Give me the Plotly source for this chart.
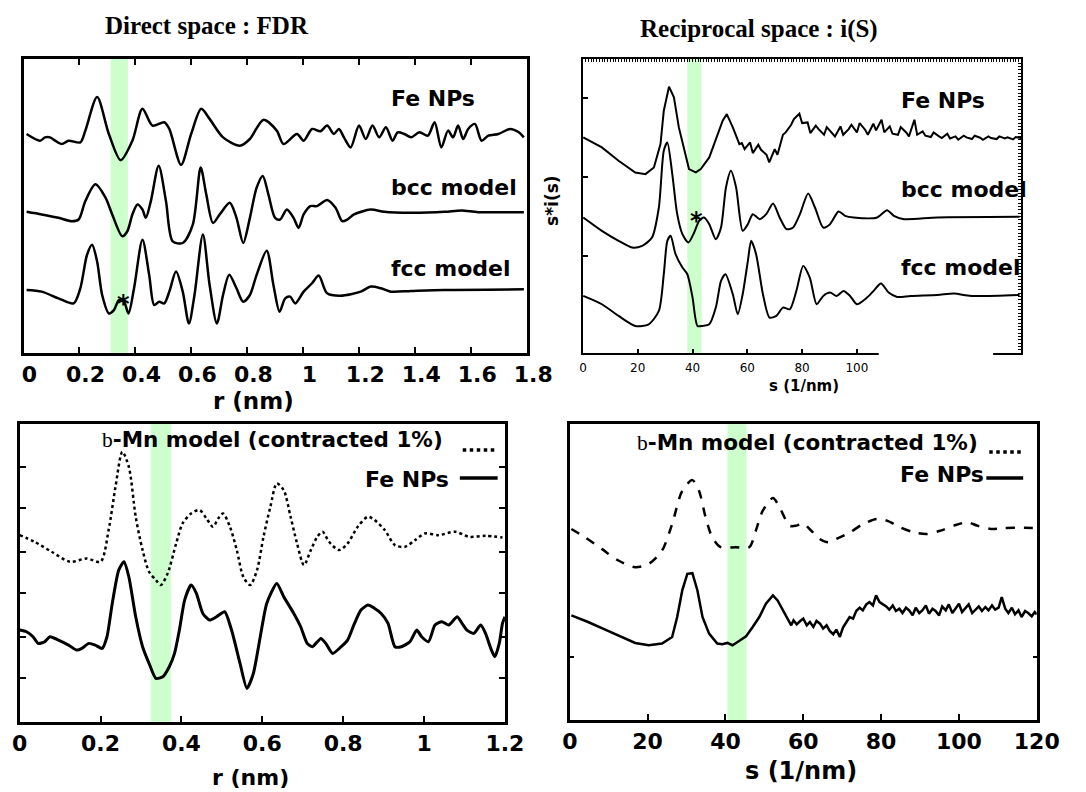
import plotly.graph_objects as go

W, H = 1086, 792

# ---------------- DATA ----------------
# Panel 1 : direct space (r in nm, arbitrary offset units)
p1_fe_r = [0.011, 0.059, 0.077, 0.095, 0.113, 0.137, 0.161, 0.203, 0.221, 0.263, 0.305, 0.347, 0.389, 0.425,
           0.461, 0.503, 0.521, 0.563, 0.599, 0.635, 0.665, 0.713, 0.773, 0.809, 0.857, 0.905, 0.929, 0.977,
           1.001, 1.031, 1.061, 1.085, 1.109, 1.127, 1.145, 1.169, 1.199, 1.223, 1.247, 1.271, 1.295, 1.319,
           1.337, 1.361, 1.385, 1.415, 1.445, 1.469, 1.493, 1.517, 1.535, 1.553, 1.571, 1.589, 1.613, 1.637,
           1.661, 1.697, 1.739, 1.770, 1.788]
p1_fe_y = [6.52, 6.32, 6.42, 6.42, 6.32, 6.22, 6.32, 6.27, 6.62, 7.62, 6.52, 5.74, 6.32, 7.27,
           6.77, 6.87, 6.67, 5.60, 6.52, 7.27, 6.97, 6.42, 6.17, 6.37, 6.94, 6.62, 6.22, 6.52,
           6.32, 6.67, 6.60, 6.77, 6.52, 6.67, 6.42, 6.12, 6.77, 6.37, 6.77, 6.42, 6.72, 6.32,
           6.57, 6.52, 6.42, 6.57, 6.47, 6.87, 6.12, 6.62, 6.42, 6.77, 6.37, 6.67, 6.82, 6.32,
           6.47, 6.52, 6.67, 6.57, 6.42]

p1_bcc_r = [0.011, 0.065, 0.125, 0.173, 0.197, 0.221, 0.257, 0.293, 0.317, 0.353, 0.371, 0.389, 0.407, 0.425,
            0.437, 0.455, 0.483, 0.509, 0.533, 0.569, 0.605, 0.633, 0.653, 0.677, 0.701, 0.737, 0.761, 0.785,
            0.809, 0.833, 0.855, 0.875, 0.899, 0.917, 0.941, 0.965, 0.983, 1.001, 1.025, 1.049, 1.085, 1.115,
            1.139, 1.157, 1.181, 1.241, 1.289, 1.385, 1.505, 1.565, 1.625, 1.788]
p1_bcc_y = [4.20, 4.12, 4.02, 3.92, 3.97, 4.52, 5.02, 4.62, 4.12, 3.47, 3.62, 4.12, 4.42, 4.27,
            4.02, 4.52, 5.57, 4.52, 3.32, 3.27, 3.82, 5.52, 4.72, 3.87, 4.12, 4.47, 4.02, 3.27,
            4.02, 4.92, 5.27, 4.72, 4.02, 3.97, 4.27, 4.02, 3.72, 4.12, 4.37, 4.37, 4.55, 4.32,
            3.92, 3.97, 4.12, 4.27, 4.20, 4.17, 4.20, 4.24, 4.19, 4.19]

p1_fcc_r = [0.011, 0.065, 0.125, 0.179, 0.203, 0.227, 0.245, 0.263, 0.281, 0.305, 0.323, 0.341, 0.359, 0.375,
            0.395, 0.425, 0.449, 0.467, 0.485, 0.503, 0.521, 0.545, 0.569, 0.591, 0.611, 0.641, 0.665, 0.691,
            0.713, 0.735, 0.761, 0.785, 0.809, 0.833, 0.869, 0.893, 0.915, 0.935, 0.953, 0.971, 1.001, 1.031,
            1.055, 1.085, 1.133, 1.205, 1.241, 1.277, 1.313, 1.385, 1.505, 1.788]
p1_fcc_y = [1.87, 1.82, 1.62, 1.47, 1.92, 2.92, 3.22, 2.72, 1.72, 1.17, 1.27, 1.57, 1.52, 1.17,
            1.92, 3.37, 2.32, 1.42, 1.52, 1.47, 1.82, 2.42, 1.82, 0.87, 1.72, 3.52, 2.02, 0.87,
            1.72, 2.32, 1.92, 1.52, 1.72, 2.32, 3.04, 2.02, 1.22, 1.62, 1.67, 1.47, 1.82, 2.07,
            2.30, 1.77, 1.70, 1.82, 1.97, 1.92, 1.82, 1.84, 1.87, 1.89]

p1_ticks = [0, 0.2, 0.4, 0.6, 0.8, 1.0, 1.2, 1.4, 1.6, 1.8]
p1_ticktext = ["0", "0.2", "0.4", "0.6", "0.8", "1", "1.2", "1.4", "1.6", "1.8"]
p1_band = [0.311, 0.373]

# Panel 2 : reciprocal space (s in 1/nm)
p2_fe_s = [0.1, 6.9, 13.0, 19.1, 22.8, 25.9, 28.3, 29.5, 31.4, 33.2, 35.0, 36.9, 38.7, 41.2, 43.0, 46.1,
           49.1, 51.0, 52.5, 54.7, 57.1,
           58, 59, 61, 62, 64, 65, 67, 68, 70, 71, 73, 74, 76, 77, 79, 80, 82, 83, 85, 86, 88, 89, 91, 92,
           94, 95, 97, 98, 100, 101, 103, 104, 106, 107, 109, 110, 112, 113, 115, 116, 118, 119, 121, 122,
           124, 125, 127, 128, 130, 131, 133, 134, 136, 137, 139, 140, 142, 143, 145, 146, 148, 149, 151,
           152, 154, 155, 157, 158, 160]
p2_fe_y = [6.47, 6.17, 5.77, 5.42, 5.37, 5.57, 6.27, 7.27, 7.99, 7.67, 6.77, 6.17, 5.52, 5.42, 5.52, 5.87,
           6.57, 6.97, 7.17, 6.77, 6.27,
           6.30, 6.12, 6.32, 6.00, 6.25, 6.10, 5.95, 5.72, 6.12, 5.95, 6.55, 6.62, 6.85, 7.02, 7.18, 6.90,
           6.92, 6.60, 6.82, 6.72, 6.55, 6.78, 6.58, 6.50, 6.80, 6.55, 6.72, 6.85, 6.62, 6.90, 6.70, 6.55,
           6.88, 6.68, 7.00, 6.62, 6.80, 6.58, 6.55, 6.78, 6.62, 6.50, 7.00, 6.55, 6.65, 6.52, 6.48, 6.62,
           6.50, 6.45, 6.58, 6.44, 6.50, 6.40, 6.52, 6.47, 6.42, 6.52, 6.46, 6.40, 6.50, 6.45, 6.42, 6.50,
           6.44, 6.47, 6.41, 6.48, 6.45]

p2_bcc_s = [0.1, 6.9, 13.0, 17.9, 21.6, 25.2, 27.7, 29.5, 30.8, 32.6, 34.4, 36.3, 38.5, 40.6, 42.4, 44.2,
            46.1, 48.5, 50.4, 52.2, 54.0, 55.9, 58.3, 60.2, 62.0, 64.5, 66.9, 69.4, 71.8, 74.3, 76.7, 79.2,
            82.2, 84.7, 87.7, 90.2, 93.3, 95.7, 98.8, 107.4, 111.0, 113.5, 117.2, 129.4, 159.4]
p2_bcc_y = [4.07, 3.67, 3.37, 3.17, 3.22, 3.47, 4.37, 6.07, 6.32, 5.37, 4.17, 3.57, 3.32, 3.62, 3.97, 4.07,
            3.87, 3.42, 3.77, 4.97, 5.47, 4.97, 3.67, 3.87, 4.17, 4.02, 4.17, 4.49, 4.07, 3.72, 3.77, 4.17,
            4.79, 4.37, 3.77, 3.87, 4.25, 4.12, 4.07, 4.07, 4.29, 4.12, 4.02, 4.07, 4.09]

p2_fcc_s = [0.1, 6.9, 13.0, 19.1, 24.0, 27.7, 29.5, 30.8, 32.0, 33.8, 36.3, 38.1, 40.0, 41.8, 43.6, 46.1,
            48.5, 50.4, 52.0, 54.7, 56.5, 58.3, 60.2, 61.4, 63.2, 65.7, 68.1, 70.6, 73.0, 75.5, 77.9, 80.4,
            82.8, 85.3, 87.7, 90.2, 92.6, 95.1, 97.5, 100.0, 103.7, 106.1, 108.8, 111.6, 114.7, 119.6, 129.4,
            135.5, 141.7, 159.4]
p2_fcc_y = [1.72, 1.47, 1.12, 0.82, 0.87, 1.27, 2.37, 3.37, 3.52, 2.97, 2.57, 2.37, 1.67, 0.82, 0.82, 0.87,
            1.37, 2.17, 2.37, 1.77, 1.17, 1.77, 2.77, 3.37, 2.97, 1.77, 1.07, 1.12, 1.37, 1.32, 1.87, 2.62,
            2.27, 1.47, 1.72, 1.82, 1.72, 1.87, 1.72, 1.47, 1.67, 1.87, 2.09, 1.82, 1.69, 1.72, 1.75,
            1.79, 1.72, 1.75]

p2_ticks = [0, 20, 40, 60, 80, 100]
p2_ticktext = ["0", "20", "40", "60", "80", "100"]
p2_yticks = [2.92, 5.27, 7.64]
p2_band = [38.1, 43.3]

# Panel 3 : beta-Mn vs Fe NPs, direct space
p3_mn_r = [0.000, 0.037, 0.079, 0.125, 0.166, 0.200, 0.220, 0.237, 0.254, 0.270, 0.287, 0.304, 0.320, 0.337,
           0.349, 0.366, 0.387, 0.403, 0.424, 0.445, 0.462, 0.478, 0.491, 0.503, 0.520, 0.537, 0.553, 0.570,
           0.587, 0.603, 0.620, 0.636, 0.653, 0.670, 0.686, 0.703, 0.720, 0.736, 0.749, 0.765, 0.790, 0.811,
           0.836, 0.861, 0.878, 0.903, 0.928, 0.953, 0.978, 1.002, 1.036, 1.077, 1.111, 1.152, 1.194]
p3_mn_y = [5.60, 5.40, 5.10, 4.80, 4.90, 4.80, 5.75, 7.05, 8.10, 7.65, 6.15, 5.15, 4.50, 4.25,
           4.10, 4.45, 5.35, 5.95, 6.25, 6.35, 6.10, 5.85, 6.10, 6.25, 5.85, 5.15, 4.35, 4.10,
           4.55, 5.55, 6.45, 7.15, 6.95, 6.15, 5.35, 4.70, 5.15, 5.55, 5.70, 5.40, 5.15, 5.35,
           5.85, 6.15, 6.05, 5.75, 5.30, 5.25, 5.45, 5.65, 5.60, 5.70, 5.55, 5.58, 5.53]

p3_fe_r = [0.000, 0.017, 0.033, 0.046, 0.062, 0.075, 0.096, 0.121, 0.141, 0.154, 0.171, 0.187, 0.204, 0.216,
           0.229, 0.245, 0.258, 0.270, 0.287, 0.304, 0.320, 0.337, 0.354, 0.370, 0.383, 0.395, 0.408, 0.424,
           0.437, 0.453, 0.470, 0.487, 0.507, 0.524, 0.545, 0.562, 0.578, 0.595, 0.611, 0.636, 0.653, 0.678,
           0.695, 0.711, 0.724, 0.745, 0.757, 0.774, 0.795, 0.811, 0.828, 0.844, 0.861, 0.878, 0.894, 0.911,
           0.928, 0.944, 0.965, 0.982, 0.994, 1.011, 1.027, 1.044, 1.061, 1.082, 1.094, 1.106, 1.123, 1.140,
           1.152, 1.165, 1.175, 1.186, 1.194, 1.200]
p3_fe_y = [2.75, 2.70, 2.55, 2.35, 2.40, 2.55, 2.45, 2.30, 2.15, 2.20, 2.35, 2.30, 2.20, 2.55,
           3.55, 4.55, 4.80, 4.35, 3.15, 2.25, 1.75, 1.30, 1.35, 1.65, 2.05, 2.75, 3.65, 4.10,
           3.85, 3.25, 3.05, 3.15, 3.30, 2.75, 1.75, 1.00, 1.45, 2.55, 3.55, 4.15, 3.75, 3.25,
           2.85, 2.35, 2.25, 2.50, 2.35, 2.05, 2.25, 2.45, 2.95, 3.35, 3.50, 3.40, 3.25, 2.95,
           2.25, 2.25, 2.40, 2.75, 2.55, 2.40, 2.90, 3.00, 2.90, 3.15, 2.95, 2.75, 2.65, 2.90,
           2.65, 2.20, 1.95, 2.35, 2.95, 3.15]

p3_ticks = [0, 0.2, 0.4, 0.6, 0.8, 1.0, 1.2]
p3_ticktext = ["0", "0.2", "0.4", "0.6", "0.8", "1", "1.2"]
p3_yticks = [1.30, 2.55, 3.85, 5.10, 6.40, 7.65]
p3_band = [0.324, 0.374]

# Panel 4 : beta-Mn vs Fe NPs, reciprocal space
p4_mn_s = [0.4, 3.9, 8.2, 12.5, 16.8, 20.3, 23.7, 26.3, 28.9, 31.5, 33.2, 34.9, 36.6, 38.8, 42.7, 46.1,
           47.8, 49.6, 52.2, 53.9, 56.5, 58.2, 59.9, 61.6, 64.2, 66.4, 68.5, 72.0, 75.4, 78.9, 81.5, 84.9,
           88.4, 91.8, 95.3, 98.7, 102.2, 104.7, 108.2, 111.6, 119.4]
p4_mn_y = [5.75, 5.50, 5.15, 4.80, 4.60, 4.70, 5.10, 5.90, 6.90, 7.22, 6.90, 6.10, 5.50, 5.20, 5.20, 5.20,
           5.70, 6.30, 6.68, 6.40, 5.85, 5.85, 5.92, 5.75, 5.45, 5.35, 5.45, 5.65, 5.90, 6.05, 6.00, 5.80,
           5.65, 5.60, 5.70, 5.85, 5.95, 5.85, 5.75, 5.78, 5.78]

p4_fe_s = [0.4, 4.7, 9.1, 13.4, 16.8, 20.3, 23.7, 26.3, 27.6, 28.9, 30.2, 31.5, 32.8, 34.1, 35.8, 37.9,
           39.2, 40.5, 41.8, 43.5, 45.3, 47.0, 48.7, 50.4, 52.2, 53.4, 55.2, 56.9,
           57.5, 58.3, 59.2, 60.0, 60.9, 61.7, 62.6, 63.4, 64.3, 65.1, 66.0, 66.8, 67.7, 68.5, 69.4, 70.2,
           71.1, 71.9, 72.8, 73.6, 74.5, 75.3, 76.2, 77.0, 77.9, 78.7, 79.6, 80.4, 81.3, 82.1, 83.0, 83.8,
           84.7, 85.5, 86.4, 87.2, 88.1, 88.9, 89.8, 90.6, 91.5, 92.3, 93.2, 94.0, 94.9, 95.7, 96.6, 97.4,
           98.3, 99.1, 100.0, 100.8, 101.7, 102.5, 103.4, 104.2, 105.1, 105.9, 106.8, 107.6, 108.5, 109.3,
           110.2, 111.0, 111.9, 112.7, 113.6, 114.4, 115.3, 116.1, 117.0, 117.8, 118.7, 119.5, 120.0]
p4_fe_y = [3.15, 2.95, 2.72, 2.50, 2.32, 2.25, 2.30, 2.50, 3.10, 3.90, 4.40, 4.42, 3.90, 3.10, 2.60, 2.30,
           2.28, 2.32, 2.25, 2.38, 2.52, 2.80, 3.10, 3.50, 3.75, 3.60, 3.20, 2.85,
           3.00, 2.88, 2.98, 3.05, 2.85, 2.95, 2.80, 2.98, 2.90, 2.75, 2.85, 2.68, 2.58, 2.72, 2.50, 2.78,
           2.95, 3.10, 3.05, 3.28, 3.38, 3.30, 3.48, 3.55, 3.45, 3.75, 3.55, 3.50, 3.42, 3.32, 3.45, 3.28,
           3.35, 3.22, 3.38, 3.30, 3.15, 3.38, 3.22, 3.30, 3.45, 3.20, 3.35, 3.28, 3.15, 3.42, 3.30, 3.48,
           3.22, 3.35, 3.50, 3.25, 3.38, 3.48, 3.22, 3.32, 3.42, 3.28, 3.40, 3.30, 3.45, 3.32,
           3.38, 3.70, 3.35, 3.22, 3.38, 3.18, 3.30, 3.10, 3.28, 3.22, 3.12, 3.25, 3.18]

p4_ticks = [0, 20, 40, 60, 80, 100, 120]
p4_ticktext = ["0", "20", "40", "60", "80", "100", "120"]
p4_yticks = [1.9]
p4_band = [40.5, 45.4]

# ---------------- helpers (layout positions in pixels) ----------------
def fx(p):
    return p / W


def fy(p):
    return 1 - p / H


SANS = "DejaVu Sans"
SERIF = "Liberation Serif"
GREEN = "rgb(204,255,204)"

fig = go.Figure()

# Panel 1 traces
for xs, ys in [(p1_fe_r, p1_fe_y), (p1_bcc_r, p1_bcc_y), (p1_fcc_r, p1_fcc_y)]:
    fig.add_trace(go.Scatter(x=xs, y=ys, xaxis="x", yaxis="y", mode="lines",
                             line=dict(color="black", width=2.5, shape="spline", smoothing=0.8)))
# Panel 2 traces
fig.add_trace(go.Scatter(x=p2_fe_s, y=p2_fe_y, xaxis="x2", yaxis="y2", mode="lines",
                         line=dict(color="black", width=2)))
for xs, ys in [(p2_bcc_s, p2_bcc_y), (p2_fcc_s, p2_fcc_y)]:
    fig.add_trace(go.Scatter(x=xs, y=ys, xaxis="x2", yaxis="y2", mode="lines",
                             line=dict(color="black", width=2, shape="spline", smoothing=0.7)))
# Panel 3 traces
fig.add_trace(go.Scatter(x=p3_mn_r, y=p3_mn_y, xaxis="x3", yaxis="y3", mode="lines",
                         line=dict(color="black", width=2.5, dash="dot", shape="spline", smoothing=0.8)))
fig.add_trace(go.Scatter(x=p3_fe_r, y=p3_fe_y, xaxis="x3", yaxis="y3", mode="lines",
                         line=dict(color="black", width=3, shape="spline", smoothing=0.6)))
# Panel 4 traces
fig.add_trace(go.Scatter(x=p4_mn_s, y=p4_mn_y, xaxis="x4", yaxis="y4", mode="lines",
                         line=dict(color="black", width=2.5, dash="dash", shape="spline", smoothing=0.8)))
fig.add_trace(go.Scatter(x=p4_fe_s, y=p4_fe_y, xaxis="x4", yaxis="y4", mode="lines",
                         line=dict(color="black", width=2.5)))
# dummy traces for the dense mirror ticks on panel 2
fig.add_trace(go.Scatter(x=[None], y=[None], xaxis="x5", yaxis="y2", mode="lines"))
fig.add_trace(go.Scatter(x=[None], y=[None], xaxis="x2", yaxis="y5", mode="lines"))

big_tick = dict(family=SANS, size=22, color="black", weight="bold")

common_x = dict(showgrid=False, zeroline=False, showline=True, linecolor="black", ticks="inside",
                tickcolor="black")
common_y = dict(showgrid=False, zeroline=False, showline=True, linecolor="black", tickcolor="black",
                showticklabels=False)

fig.update_layout(
    width=W, height=H, margin=dict(l=0, r=0, t=0, b=0),
    paper_bgcolor="white", plot_bgcolor="white", showlegend=False,
    xaxis=dict(common_x, domain=[fx(16), fx(535.5)], anchor="y", range=[0, 1.8],
               tickvals=p1_ticks, ticktext=p1_ticktext, tickfont=big_tick, linewidth=3,
               mirror="allticks", ticklen=6, tickwidth=2, ticklabelstandoff=0, ticklabelshift=6),
    yaxis=dict(common_y, domain=[fy(352.7), fy(58.5)], anchor="x", range=[0, 8.77], linewidth=3,
               mirror=True, ticks=""),
    xaxis2=dict(common_x, domain=[fx(593), fx(1045)], anchor="y2", range=[0, 160],
                tickvals=p2_ticks, ticktext=p2_ticktext,
                tickfont=dict(family=SANS, size=12, color="black"), linewidth=2, mirror=True,
                ticklen=4, tickwidth=1.5, ticklabelstandoff=2),
    yaxis2=dict(common_y, domain=[fy(353.3), fy(59)], anchor="x2", range=[0, 8.82], linewidth=2,
                mirror=True, ticks="inside", tickvals=p2_yticks, ticklen=5, tickwidth=1.5),
    xaxis5=dict(overlaying="x2", anchor="y2", side="top", range=[0, 160], ticks="inside",
                tickmode="linear", tick0=0, dtick=1, ticklen=3, tickwidth=1, tickcolor="black",
                showticklabels=False, showgrid=False, zeroline=False, showline=False),
    yaxis5=dict(overlaying="y2", anchor="x2", side="right", range=[0, 8.82], ticks="inside",
                tickmode="linear", tick0=0, dtick=0.1, ticklen=3, tickwidth=1, tickcolor="black",
                showticklabels=False, showgrid=False, zeroline=False, showline=False),
    xaxis3=dict(common_x, domain=[fx(12), fx(512.5)], anchor="y3", range=[0, 1.2],
                tickvals=p3_ticks, ticktext=p3_ticktext, tickfont=big_tick, linewidth=3,
                mirror=True, ticklen=6, tickwidth=2, ticklabelstandoff=0),
    yaxis3=dict(common_y, domain=[fy(721.7), fy(423.5)], anchor="x3", range=[0, 8.95], linewidth=3,
                mirror="allticks", ticks="inside", tickvals=p3_yticks, ticklen=6, tickwidth=2),
    xaxis4=dict(common_x, domain=[fx(579.4), fx(1061)], anchor="y4", range=[0, 120],
                tickvals=p4_ticks, ticktext=p4_ticktext, tickfont=big_tick, linewidth=3,
                mirror=True, ticklen=6, tickwidth=2, ticklabelstandoff=0),
    yaxis4=dict(common_y, domain=[fy(720), fy(424.3)], anchor="x4", range=[0, 8.9], linewidth=3,
                mirror="allticks", ticks="inside", tickvals=p4_yticks, ticklen=4, tickwidth=2),
)

shapes = []
# green bands
for xr, yr, band in [("x", "y domain", p1_band), ("x2", "y2 domain", p2_band),
                     ("x3", "y3 domain", p3_band), ("x4", "y4 domain", p4_band)]:
    shapes.append(dict(type="rect", xref=xr, yref=yr, x0=band[0], x1=band[1], y0=0, y1=1,
                       fillcolor=GREEN, line=dict(width=0), layer="below"))
# gap in panel 2 bottom frame
shapes.append(dict(type="rect", xref="paper", yref="paper", x0=fx(898), x1=fx(1016),
                   y0=fy(358), y1=fy(349.5), fillcolor="white", line=dict(width=0), layer="above"))
# legend line samples
shapes.append(dict(type="line", xref="paper", yref="paper", x0=fx(469), x1=fx(505), y0=fy(450), y1=fy(450),
                   line=dict(color="black", width=3.5, dash="dot")))
shapes.append(dict(type="line", xref="paper", yref="paper", x0=fx(466), x1=fx(505), y0=fy(478), y1=fy(478),
                   line=dict(color="black", width=3.5)))
shapes.append(dict(type="line", xref="paper", yref="paper", x0=fx(1012), x1=fx(1047), y0=fy(452), y1=fy(452),
                   line=dict(color="black", width=3.5, dash="dot")))
shapes.append(dict(type="line", xref="paper", yref="paper", x0=fx(1009), x1=fx(1047), y0=fy(478), y1=fy(478),
                   line=dict(color="black", width=3.5)))
fig.update_layout(shapes=shapes)

ann = []


def txt(text, x, y, size, family=SANS, xanchor="center", yanchor="middle", xref="paper", yref="paper",
        angle=0, bold=True):
    ann.append(dict(text=("<b>%s</b>" % text) if bold else text, x=x, y=y, xref=xref, yref=yref,
                    xanchor=xanchor, yanchor=yanchor, showarrow=False, textangle=angle,
                    font=dict(family=family, size=size, color="black")))


# titles
txt("Direct space : FDR", fx(205), fy(25), 25, family=SERIF)
txt("Reciprocal space : i(S)", fx(775), fy(29), 25, family=SERIF)
# axis titles
txt("r (nm)", fx(253), fy(401), 23)
txt("s (1/nm)", fx(821), fy(386), 15)
txt("s*i(s)", fx(561), fy(200), 17, angle=-90)
txt("r (nm)", fx(250), fy(777), 22)
txt("s (1/nm)", fx(818), fy(771), 24)
# panel 1 curve labels
txt("Fe NPs", 1.307, 7.57, 22, xanchor="left", xref="x", yref="y")
txt("bcc model", 1.307, 4.92, 22, xanchor="left", xref="x", yref="y")
txt("fcc model", 1.307, 2.52, 22, xanchor="left", xref="x", yref="y")
txt("*", 0.358, 1.45, 24, xref="x", yref="y")
# panel 2 curve labels
txt("Fe NPs", 115.3, 7.57, 22, xanchor="left", xref="x2", yref="y2")
txt("bcc model", 115.3, 4.92, 22, xanchor="left", xref="x2", yref="y2")
txt("fcc model", 115.3, 2.57, 22, xanchor="left", xref="x2", yref="y2")
txt("*", 41.5, 3.97, 24, xref="x2", yref="y2")
# legends
mn_text = ('<span style="font-family:Liberation Serif">b</span>'
           '<b>-Mn model (contracted 1%)</b>')
for x0, y0 in [(95, 439), (647, 442)]:
    ann.append(dict(text=mn_text, x=fx(x0), y=fy(y0), xref="paper", yref="paper", xanchor="left",
                    yanchor="middle", showarrow=False, font=dict(family=SANS, size=21.5, color="black")))
txt("Fe NPs", fx(457), fy(479), 22, xanchor="right")
txt("Fe NPs", fx(1009), fy(474), 22, xanchor="right")

fig.update_layout(annotations=ann)

fig.write_html("out.html", config={"displayModeBar": False},
               post_script="document.body.style.margin='0px';document.body.style.overflow='hidden';")
